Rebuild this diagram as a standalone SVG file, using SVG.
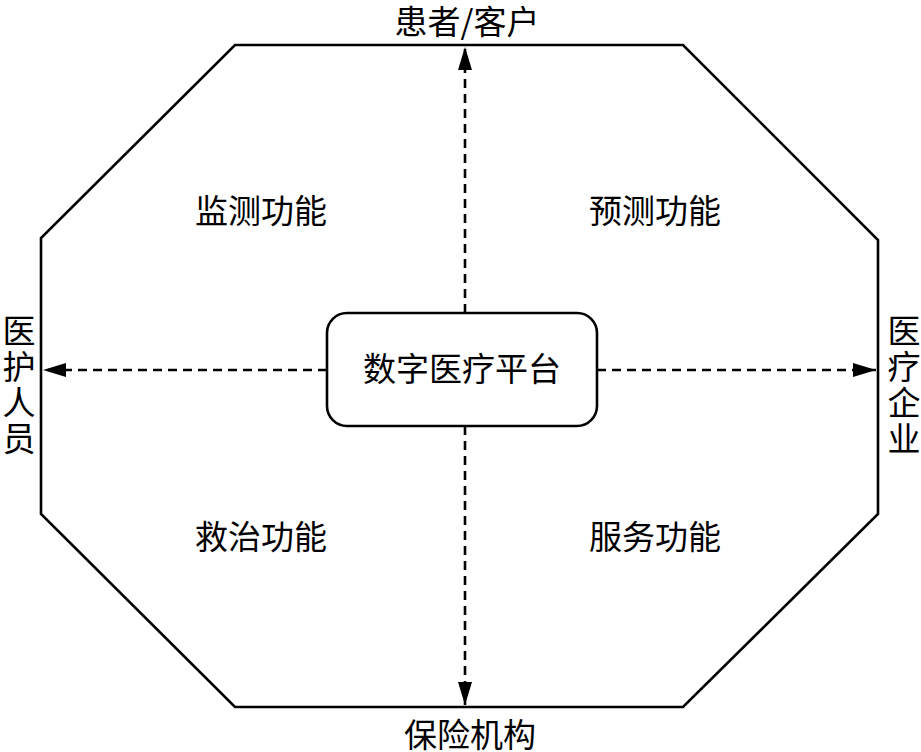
<svg xmlns="http://www.w3.org/2000/svg" width="921" height="752" viewBox="0 0 921 752">
<defs>
<style>
.t{font-family:"Noto Sans CJK SC","Liberation Sans",sans-serif;font-size:33px;fill:#000;text-anchor:middle}
.ln{stroke:#000;stroke-width:2.6;fill:none}
.dash{stroke:#000;stroke-width:2.6;fill:none;stroke-dasharray:9 6}
</style>
<marker id="ah" markerUnits="userSpaceOnUse" markerWidth="24" markerHeight="16" refX="23" refY="7" orient="auto">
<path d="M0,0 L23,7 L0,14 Z" fill="#000"/>
</marker>
</defs>
<rect width="921" height="752" fill="#fff"/>
<g id="octagon">
<polygon class="ln" points="235,45 683,45 878,240 878,514 683,707 235,707 41,514 41,238"/>
</g>
<g id="connectors">
<line class="dash" x1="465" y1="313" x2="465" y2="47" marker-end="url(#ah)"/>
<line class="dash" x1="465" y1="426" x2="465" y2="705" marker-end="url(#ah)"/>
<line class="dash" x1="327" y1="370" x2="43" y2="370" marker-end="url(#ah)"/>
<line class="dash" x1="597" y1="370" x2="876" y2="370" marker-end="url(#ah)"/>
</g>
<g id="center">
<rect class="ln" x="327" y="313" width="270" height="113" rx="20" ry="20" fill="#fff"/>
<text class="t" x="462" y="381">数字医疗平台</text>
</g>
<g id="top-label"><text class="t" x="467" y="34">患者/客户</text></g>
<g id="bottom-label"><text class="t" x="470" y="747">保险机构</text></g>
<g id="q1"><text class="t" x="261" y="223">监测功能</text></g>
<g id="q2"><text class="t" x="655" y="223">预测功能</text></g>
<g id="q3"><text class="t" x="261" y="549">救治功能</text></g>
<g id="q4"><text class="t" x="655" y="549">服务功能</text></g>
<g id="left-label">
<text class="t" x="19" y="343">医</text>
<text class="t" x="19" y="379">护</text>
<text class="t" x="19" y="415">人</text>
<text class="t" x="19" y="451">员</text>
</g>
<g id="right-label">
<text class="t" x="904" y="343">医</text>
<text class="t" x="904" y="379">疗</text>
<text class="t" x="904" y="415">企</text>
<text class="t" x="904" y="451">业</text>
</g>
</svg>
